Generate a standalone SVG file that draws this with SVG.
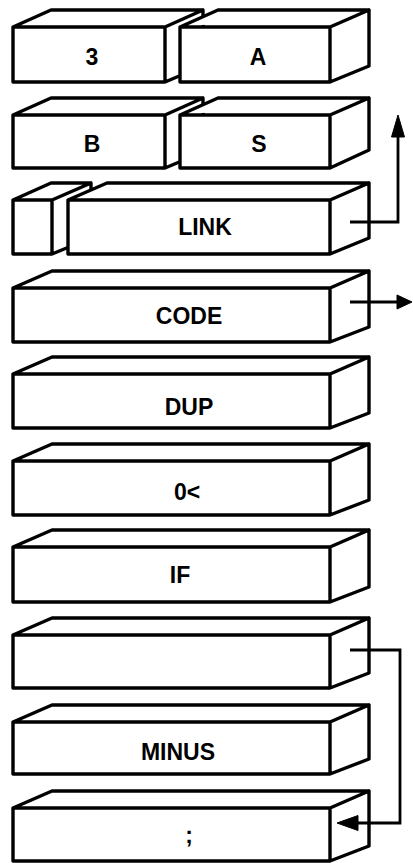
<svg xmlns="http://www.w3.org/2000/svg" width="413" height="863" viewBox="0 0 413 863">
<style>
.box{fill:#fff;stroke:#000;stroke-width:3.4;stroke-linejoin:round;stroke-linecap:round}
.lbl{font-family:"Liberation Sans",Arial,sans-serif;font-weight:bold;font-size:23px;text-anchor:middle;fill:#000}
.wire{fill:none;stroke:#000;stroke-width:2.8;stroke-linejoin:miter}
.head{fill:#000;stroke:#000;stroke-width:1;stroke-linejoin:round}
</style>
<rect width="413" height="863" fill="#fff"/>
<g id="n-3"><path class="box" d="M13 27 L51 10 L203 10 L203 66 L165 82 L13 82 Z M13 27 L165 27 L203 10 M165 27 L165 82"/><text class="lbl" x="92" y="65">3</text></g>
<g id="n-A"><path class="box" d="M180 27 L218 10 L369 10 L369 66 L330 82 L180 82 Z M180 27 L330 27 L369 10 M330 27 L330 82"/><text class="lbl" x="258" y="65">A</text></g>
<g id="n-B"><path class="box" d="M13 115 L51 98 L203 98 L203 152 L165 168 L13 168 Z M13 115 L165 115 L203 98 M165 115 L165 168"/><text class="lbl" x="92" y="152">B</text></g>
<g id="n-S"><path class="box" d="M180 115 L218 98 L369 98 L369 150 L330 168 L180 168 Z M180 115 L330 115 L369 98 M330 115 L330 168"/><text class="lbl" x="259" y="152">S</text></g>
<g id="n-small"><path class="box" d="M13 200 L51 183 L91 183 L91 238 L52 254 L13 254 Z M13 200 L52 200 L91 183 M52 200 L52 254"/></g>
<g id="n-LINK"><path class="box" d="M68 200 L107 183 L369 183 L369 238 L330 254 L68 254 Z M68 200 L330 200 L369 183 M330 200 L330 254"/><text class="lbl" x="205" y="235">LINK</text></g>
<g id="n-CODE"><path class="box" d="M13 288 L52 271 L369 271 L369 327 L330 342 L13 342 Z M13 288 L330 288 L369 271 M330 288 L330 342"/><text class="lbl" x="189" y="324">CODE</text></g>
<g id="n-DUP"><path class="box" d="M13 374 L52 357 L369 357 L369 413 L330 428 L13 428 Z M13 374 L330 374 L369 357 M330 374 L330 428"/><text class="lbl" x="189" y="415">DUP</text></g>
<g id="n-0lt"><path class="box" d="M13 461 L52 444 L369 444 L369 500 L330 515 L13 515 Z M13 461 L330 461 L369 444 M330 461 L330 515"/><text class="lbl" x="187" y="500">0&lt;</text></g>
<g id="n-IF"><path class="box" d="M13 547 L52 530 L369 530 L369 587 L330 602 L13 602 Z M13 547 L330 547 L369 530 M330 547 L330 602"/><text class="lbl" x="180" y="583">IF</text></g>
<g id="n-branch"><path class="box" d="M13 635 L52 618 L369 618 L369 673 L330 688 L13 688 Z M13 635 L330 635 L369 618 M330 635 L330 688"/></g>
<g id="n-MINUS"><path class="box" d="M13 722 L52 705 L369 705 L369 759 L330 774 L13 774 Z M13 722 L330 722 L369 705 M330 722 L330 774"/><text class="lbl" x="178" y="760">MINUS</text></g>
<g id="n-semi"><path class="box" d="M13 808 L52 791 L369 791 L369 846 L330 861 L13 861 Z M13 808 L330 808 L369 791 M330 808 L330 861"/><text class="lbl" x="189" y="843">;</text></g>
<g id="connectors">
<path class="wire" d="M350 222 L398 222 L398 134"/>
<path class="head" d="M398 115 L404.5 137 L391.5 137 Z"/>
<path class="wire" d="M350 302 L400 302"/>
<path class="head" d="M412 302 L397 295 L397 309 Z"/>
<path class="wire" d="M350 650 L400 650 L400 823 L355 823"/>
<path class="head" d="M337 823 L358 815.5 L358 830.5 Z"/>
</g>
</svg>
